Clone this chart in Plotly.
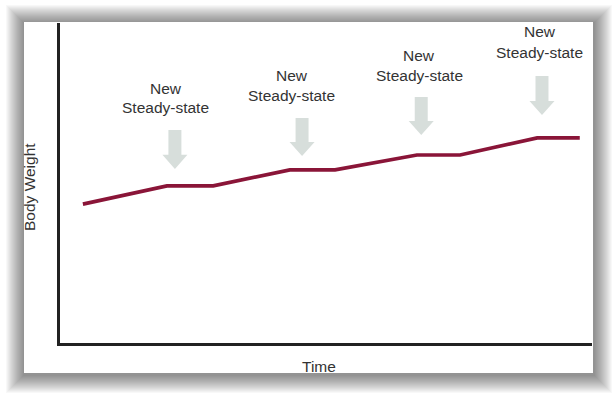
import plotly.graph_objects as go

# ---- data ----
time_vals = [4.3, 20.1, 28.8, 43.2, 51.7, 67.1, 75.2, 89.7, 97.7]
weight_vals = [43.4, 49.1, 49.1, 54.1, 54.1, 58.75, 58.75, 64.1, 64.1]

label_x = [19.9, 43.6, 67.5, 90.2]
label_new_y = [79.5, 83.5, 90.0, 97.3]
label_steady_y = [73.7, 77.5, 83.6, 90.9]
label_line1 = "New"
label_line2 = "Steady-state"

arrow_x = [21.6, 45.5, 67.9, 90.6]
arrow_top = [66.6, 70.3, 76.9, 83.4]
arrow_tip = [54.4, 58.4, 65.0, 71.25]

x_title = "Time"
y_title = "Body Weight"

W, H = 616, 396
ML, MR, MT, MB = 60, 24, 23, 53
pw, ph = W - ML - MR, H - MT - MB


def px_x(p):
    return (p - ML) / pw


def px_y(p):
    return (H - MB - p) / ph


fig = go.Figure()
fig.add_trace(go.Scatter(
    x=time_vals, y=weight_vals, mode="lines",
    line=dict(color="#8a1538", width=3.6),
    hoverinfo="skip", showlegend=False,
))

shapes = []
# soft drop shadow around white panel
px0, px1, py0, py1 = 24, 593, 22, 373
for i in range(18, 0, -1):
    shapes.append(dict(
        type="rect", xref="paper", yref="paper", layer="below",
        x0=px_x(px0 - i), x1=px_x(px1 + i + 1),
        y0=px_y(py1 + i + 2), y1=px_y(py0 - i + 1),
        line=dict(width=0), fillcolor="rgba(0,0,0,0.026)",
    ))
shapes.append(dict(
    type="rect", xref="paper", yref="paper", layer="below",
    x0=px_x(px0), x1=px_x(px1), y0=px_y(py1), y1=px_y(py0),
    line=dict(width=0), fillcolor="white",
))

# arrows
shaft_hw, head_hw, head_h = 1.22, 2.35, 4.4
for ax, at, tip in zip(arrow_x, arrow_top, arrow_tip):
    hb = tip + head_h
    path = (f"M{ax-shaft_hw},{at} L{ax+shaft_hw},{at} L{ax+shaft_hw},{hb} "
            f"L{ax+head_hw},{hb} L{ax},{tip} L{ax-head_hw},{hb} L{ax-shaft_hw},{hb} Z")
    shapes.append(dict(type="path", xref="x", yref="y", path=path,
                       fillcolor="#d7dedb", line=dict(width=0), layer="above"))

annotations = []
font = dict(family="Liberation Sans, Arial, sans-serif", size=15.5, color="#333333")
for lx, ny, sy in zip(label_x, label_new_y, label_steady_y):
    annotations.append(dict(x=lx, y=ny, xref="x", yref="y", text=label_line1,
                            showarrow=False, font=font, xanchor="center", yanchor="middle"))
    annotations.append(dict(x=lx, y=sy, xref="x", yref="y", text=label_line2,
                            showarrow=False, font=font, xanchor="center", yanchor="middle"))

annotations.append(dict(x=px_x(318.5), y=px_y(366), xref="paper", yref="paper",
                        text=x_title, showarrow=False, font=font,
                        xanchor="center", yanchor="middle"))
annotations.append(dict(x=px_x(29), y=px_y(187), xref="paper", yref="paper",
                        text=y_title, showarrow=False, font=font, textangle=-90,
                        xanchor="center", yanchor="middle"))

fig.update_layout(
    width=W, height=H,
    margin=dict(l=ML, r=MR, t=MT, b=MB),
    paper_bgcolor="white", plot_bgcolor="white",
    shapes=shapes, annotations=annotations,
    xaxis=dict(range=[0, 100], showgrid=False, zeroline=False, showticklabels=False,
               ticks="", showline=True, linecolor="#222222", linewidth=3,
               fixedrange=True),
    yaxis=dict(range=[0, 100], showgrid=False, zeroline=False, showticklabels=False,
               ticks="", showline=True, linecolor="#222222", linewidth=3,
               fixedrange=True),
)

fig.write_html("out.html", config={"displayModeBar": False},
               post_script="document.body.style.margin='0';document.body.style.padding='0';")
